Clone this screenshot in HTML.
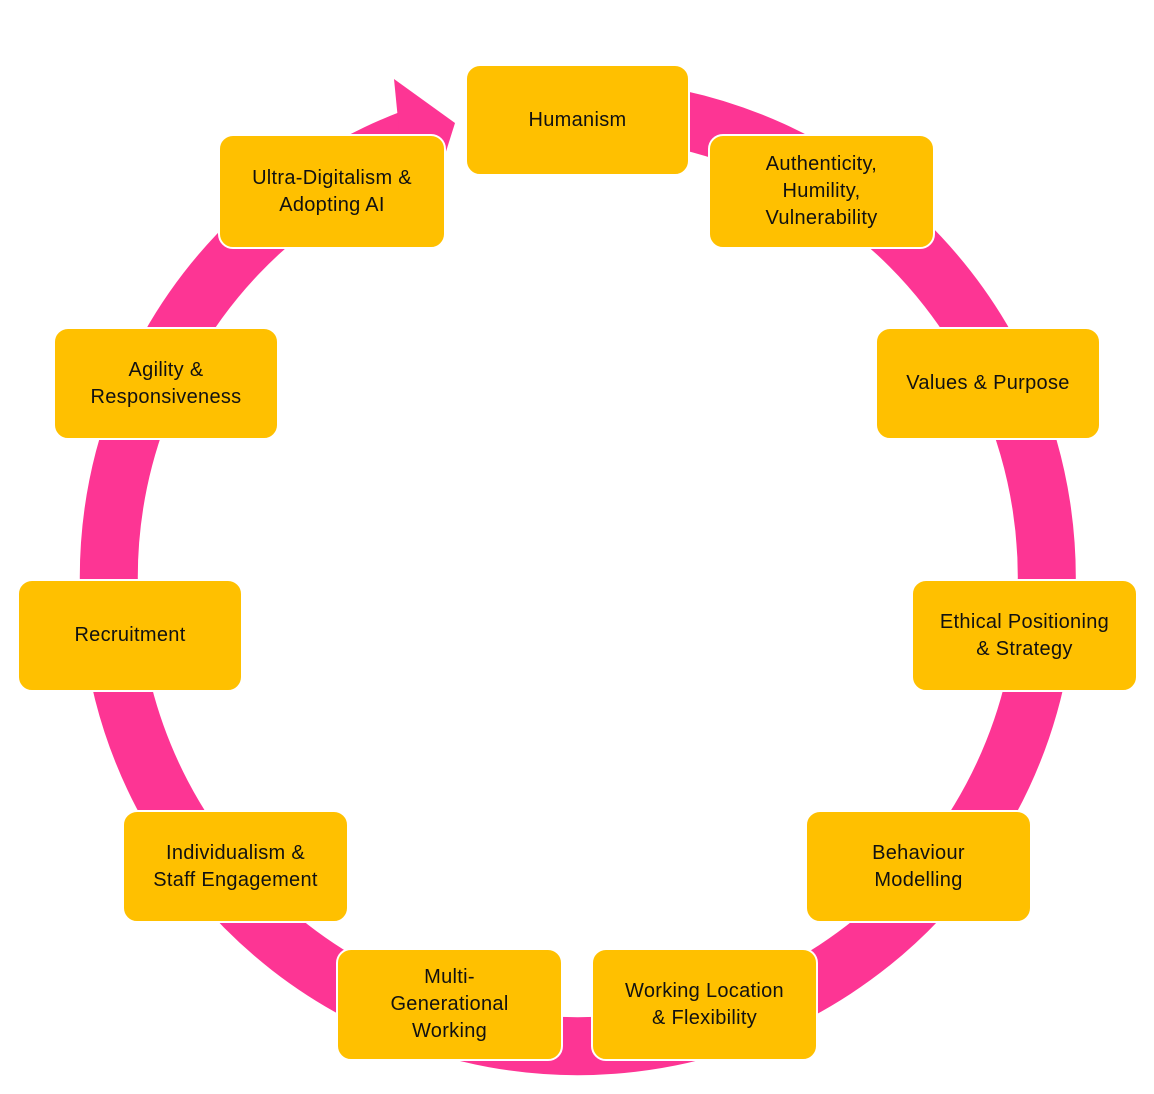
<!DOCTYPE html>
<html><head><meta charset="utf-8"><style>
body{margin:0;background:#fff;width:1154px;height:1094px;position:relative;overflow:hidden;font-family:"Liberation Sans",sans-serif}
svg{position:absolute;left:0;top:0}
.b{position:absolute;box-sizing:border-box;background:#FFC000;border:2px solid #fff;border-radius:15px;display:flex;align-items:center;justify-content:center;text-align:center;font-size:20px;line-height:27px;color:#111;letter-spacing:0.3px}
</style></head><body>
<svg width="1154" height="1094">
<path d="M677,118.8 A469,469 0 1 1 410.6,139" fill="none" stroke="#FD3594" stroke-width="58"/>
<polygon points="394,79 455,123 432,196 400,140" fill="#FD3594"/>
</svg>
<div class="b" style="left:465px;top:64px;width:225px;height:112px">Humanism</div>
<div class="b" style="left:708px;top:134px;width:227px;height:115px">Authenticity,<br>Humility,<br>Vulnerability</div>
<div class="b" style="left:875px;top:327px;width:226px;height:113px">Values &amp; Purpose</div>
<div class="b" style="left:911px;top:579px;width:227px;height:113px">Ethical Positioning<br>&amp; Strategy</div>
<div class="b" style="left:805px;top:810px;width:227px;height:113px">Behaviour<br>Modelling</div>
<div class="b" style="left:591px;top:948px;width:227px;height:113px">Working Location<br>&amp; Flexibility</div>
<div class="b" style="left:336px;top:948px;width:227px;height:113px">Multi-<br>Generational<br>Working</div>
<div class="b" style="left:122px;top:810px;width:227px;height:113px">Individualism &amp;<br>Staff Engagement</div>
<div class="b" style="left:17px;top:579px;width:226px;height:113px">Recruitment</div>
<div class="b" style="left:53px;top:327px;width:226px;height:113px">Agility &amp;<br>Responsiveness</div>
<div class="b" style="left:218px;top:134px;width:228px;height:115px">Ultra-Digitalism &amp;<br>Adopting AI</div>
</body></html>
